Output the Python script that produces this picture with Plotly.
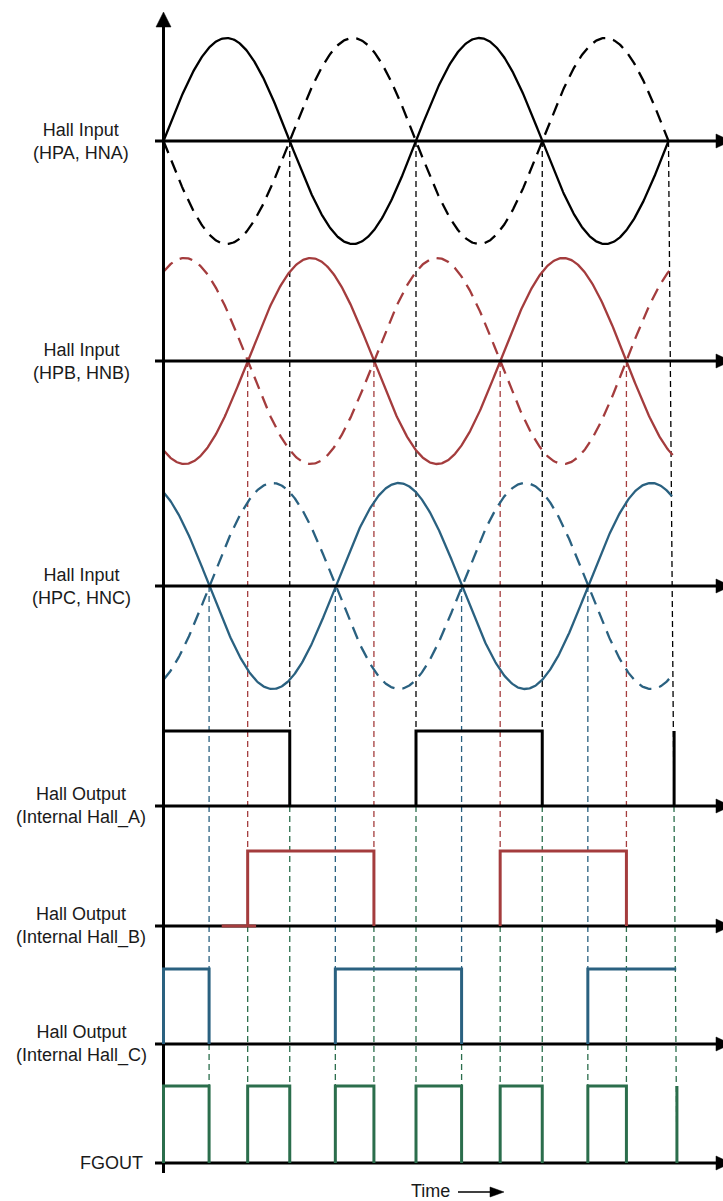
import numpy as np
import plotly.graph_objects as go

# ---------------- data (time in electrical degrees) ----------------
input_labels = ["Hall Input<br>(HPA, HNA)", "Hall Input<br>(HPB, HNB)", "Hall Input<br>(HPC, HNC)"]
input_phase = [0.0, 120.0, 245.5]        # solid trace = sin(t - phase), dashed = inverse
input_end = [720.0, 726.0, 725.0]        # where each pair of traces stops
input_crossings = [[180, 360, 540], [120, 300, 480, 660], [65, 245, 425, 605]]
last_edge = (720.0, 732.0)               # final (slightly slanted) black edge line: top, bottom

output_labels = ["Hall Output<br>(Internal Hall_A)", "Hall Output<br>(Internal Hall_B)",
                 "Hall Output<br>(Internal Hall_C)", "FGOUT"]
# pulses: (rise, end of high level, has falling edge)
hall_a_pulses = [(0, 180, True), (360, 540, True), (728, 728, False)]
hall_b_pulses = [(120, 300, True), (480, 660, True)]
hall_c_pulses = [(0, 65, True), (245, 425, True), (605, 731, False)]
fgout_pulses = [(0, 65, True), (120, 180, True), (245, 300, True), (360, 425, True),
                (480, 540, True), (605, 660, True), (732, 732, False)]
hall_b_low_piece = (83, 132)

# ---------------- layout / style ----------------
W, H = 723, 1201
X0PX = 163.5
PXDEG = 126.25 / 180.0
def px2t(px):
    return (px - X0PX) / PXDEG

in_base = [141, 361, 586]
in_amp = 103
out_base = [806, 926, 1044, 1163]
out_high = [75, 75, 75, 77]

BLACK = "#000000"
RED = "#A43C3D"
BLUE = "#2A6180"
GREEN = "#2B6E4C"
in_colors = [BLACK, RED, BLUE]
out_colors = [BLACK, RED, BLUE, GREEN]
FONT = "Liberation Sans, Arial, sans-serif"
TXT = "#1a1a1a"

fig = go.Figure()

def add_line(xs, ys, color, width, dash="solid"):
    fig.add_trace(go.Scatter(x=xs, y=ys, mode="lines", hoverinfo="skip",
                             line=dict(color=color, width=width, dash=dash)))

# dashed vertical edge lines
VD = "6px,4px"
for i, cr in enumerate(input_crossings):
    xs_c, ys_c, xs_g, ys_g = [], [], [], []
    for t in cr:
        xs_c += [t, t, None]; ys_c += [in_base[i], out_base[i], None]
        xs_g += [t, t, None]; ys_g += [out_base[i], out_base[3], None]
    add_line(xs_c, ys_c, in_colors[i], 1.3, VD)
    add_line(xs_g, ys_g, GREEN, 1.3, VD)
# slanted last line
tt, tb = last_edge
frac = (out_base[0] - in_base[0]) / (out_base[3] - in_base[0])
tm = tt + (tb - tt) * frac
add_line([tt, tm], [in_base[0], out_base[0]], BLACK, 1.3, VD)
add_line([tm, tb], [out_base[0], out_base[3]], GREEN, 1.3, VD)

# Hall input sine waves
for i in range(3):
    t = np.linspace(0, input_end[i], 600)
    s = np.sin(np.radians(t - input_phase[i]))
    add_line(t, in_base[i] + in_amp * s, in_colors[i], 2.3, "13px,8px")
    add_line(t, in_base[i] - in_amp * s, in_colors[i], 2.3)

# axes
ax_l, ax_r = px2t(155), px2t(717)
for b in in_base + out_base:
    add_line([ax_l, ax_r], [b, b], BLACK, 3)
add_line([0, 0], [1173, 22], BLACK, 3)

# square waves
def pulse_path(pulses, base, height):
    xs, ys = [], []
    for r, e, fall in pulses:
        xs += [r, r, e]; ys += [base, base - height, base - height]
        if fall:
            xs.append(e); ys.append(base)
        xs.append(None); ys.append(None)
    return xs, ys

for i, p in enumerate([hall_a_pulses, hall_b_pulses, hall_c_pulses, fgout_pulses]):
    xs, ys = pulse_path(p, out_base[i], out_high[i])
    add_line(xs, ys, out_colors[i], 3)
add_line(list(hall_b_low_piece), [out_base[1], out_base[1]], RED, 3)

# arrow heads (filled triangles)
def tri(pts_px, color):
    xs = [px2t(p[0]) for p in pts_px] + [px2t(pts_px[0][0])]
    ys = [p[1] for p in pts_px] + [pts_px[0][1]]
    fig.add_trace(go.Scatter(x=xs, y=ys, mode="lines", fill="toself", fillcolor=color,
                             line=dict(color=color, width=0.5), hoverinfo="skip"))

tri([(X0PX, 12), (X0PX - 7.5, 27), (X0PX + 7.5, 27)], BLACK)
for b in in_base + out_base:
    tri([(731, b), (716, b - 7), (716, b + 7)], BLACK)

# labels
for i, lab in enumerate(input_labels):
    fig.add_annotation(x=px2t(81), y=in_base[i], text=lab, showarrow=False,
                       xanchor="center", yanchor="middle",
                       font=dict(family=FONT, size=18, color=TXT))
for i, lab in enumerate(output_labels[:3]):
    fig.add_annotation(x=px2t(81), y=out_base[i], text=lab, showarrow=False,
                       xanchor="center", yanchor="middle",
                       font=dict(family=FONT, size=18, color=TXT))
fig.add_annotation(x=px2t(145), y=out_base[3], text=output_labels[3], showarrow=False,
                   xanchor="right", yanchor="middle",
                   font=dict(family=FONT, size=18, color=TXT))
fig.add_annotation(x=px2t(409), y=1191, text="Time", showarrow=False,
                   xanchor="left", yanchor="middle",
                   font=dict(family=FONT, size=18, color=TXT))
add_line([px2t(458), px2t(492)], [1192, 1192], BLACK, 1.5)
tri([(504, 1192), (490, 1187), (490, 1197)], BLACK)

fig.update_layout(
    width=W, height=H, margin=dict(l=0, r=0, t=0, b=0),
    paper_bgcolor="white", plot_bgcolor="white", showlegend=False,
    xaxis=dict(visible=False, range=[px2t(0), px2t(W)], fixedrange=True),
    yaxis=dict(visible=False, range=[H, 0], fixedrange=True),
)
fig.write_html("out.html", config={"displayModeBar": False},
               post_script="document.body.style.margin='0';document.body.style.overflow='hidden';")
